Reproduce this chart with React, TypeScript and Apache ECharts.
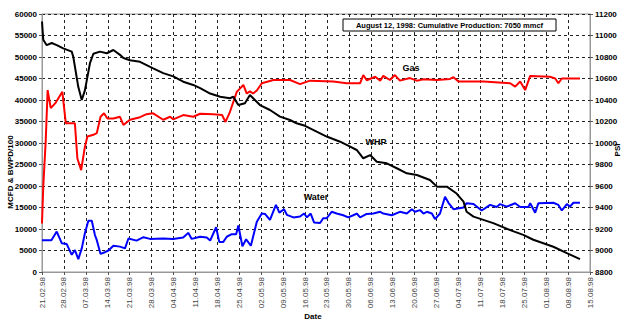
import React, { useEffect, useRef } from "react";
import * as echarts from "echarts";

// Day index counted from 21.02.1998
const startDate = Date.UTC(1998, 1, 21);
const dayTicks = { min: 0, max: 175, interval: 7 };
const leftTicks = { min: 0, max: 60000, interval: 5000 };
const rightTicks = { min: 8800, max: 11200, interval: 200 };

const gasData: [number, number][] = [
  [0, 11300], [0.4, 19800], [1.2, 30700], [1.8, 42300], [2.8, 38100], [4.2, 39200], [6.5, 41900],
  [7.6, 34600], [10.5, 34600], [11.3, 26400], [12.5, 23700], [13.7, 29100], [14.5, 31500],
  [16.4, 31900], [17.5, 32300], [18.7, 36100], [19.8, 36900], [20.9, 35700], [22.8, 35700],
  [24.9, 36100], [26, 34200], [28.1, 35400], [31.3, 36000], [33.4, 36700], [35.5, 36900],
  [38.7, 35400], [40.9, 36100], [41.9, 35500], [45.1, 36500], [48.3, 36100], [50.5, 36800],
  [54.7, 36700], [57.5, 36500], [58.6, 34900], [60, 37200], [62.2, 41900], [64.3, 43500],
  [65.4, 41500], [66.4, 42000], [67.4, 41500], [68.6, 42200], [70.2, 43900], [73.9, 44650], [79.2, 44650],
  [82.4, 43700], [85.6, 44500], [93, 44300], [97.3, 43900], [101.6, 43900], [102.6, 45800],
  [103.7, 44600], [106.4, 45400], [108, 44500], [109, 45600], [111.1, 44650], [112.7, 45800],
  [114.3, 44500], [117.5, 45100], [119.7, 44500], [121.8, 44800], [126.1, 44650], [130.3, 44900],
  [131.4, 45300], [133, 44300], [141, 44300], [149.5, 43900], [151.1, 43100], [152.7, 44300],
  [154.3, 42300], [155.9, 45600], [162.2, 45400], [163.9, 45000], [164.9, 43900], [166, 45000],
  [168.6, 45000], [171.8, 45000],
];

const waterData: [number, number][] = [
  [0, 7400], [3, 7400], [4.7, 9400], [6.3, 6700], [7.9, 6500], [9.5, 4000], [10.5, 5100],
  [11.6, 3000], [12.7, 5500], [13.7, 9000], [14.8, 11900], [15.9, 11900], [16.9, 8600],
  [17.5, 7400], [18.7, 4200], [20.1, 4600], [21.2, 5000], [22.8, 6100], [24.9, 5900],
  [26.5, 5500], [27.6, 7800], [30.2, 7300], [32.4, 8100], [34.5, 7700], [38.7, 7800],
  [41.9, 7700], [45.1, 8000], [46.7, 9100], [47.8, 7700], [50.5, 8200], [52.6, 8000],
  [53.7, 7300], [55.6, 10400], [56.6, 7000], [57.9, 7000], [59, 8200], [60.6, 8800], [62, 8800],
  [62.7, 10800], [64, 6000], [65.2, 7600], [66.7, 6100], [68.6, 11700], [70.2, 13600],
  [71.2, 13500], [72.8, 12100], [74.7, 15600], [75.8, 13800], [77.3, 14600], [78.2, 13300],
  [80.3, 12700], [82.4, 12900], [83.7, 13600], [84.6, 12700], [85.8, 13600], [86.9, 11500],
  [88.8, 11400], [89.8, 12500], [90.9, 12500], [92.5, 14000], [94.1, 13600], [96.2, 13200],
  [97.8, 12700], [99.4, 13200], [100.5, 13600], [101.6, 12700], [103.7, 13500], [105.8, 13600],
  [108, 14000], [109, 13600], [111.7, 13200], [114.3, 14000], [116.5, 13600], [118.1, 14600],
  [119.1, 14000], [120.7, 14400], [121.8, 13600], [122.9, 14000], [124.5, 13600], [125.5, 12300],
  [127.1, 13600], [128.7, 17500], [129.8, 16100], [131.4, 14600], [134.6, 15000], [135.6, 16000],
  [137.8, 15800], [140.4, 14300], [143.1, 15600], [145.2, 15100], [146.3, 15800], [148.4, 15200],
  [151.1, 16000], [152.7, 15100], [155.3, 15100], [155.9, 16000], [157.5, 13800], [158.5, 16000],
  [163.3, 16100], [164.9, 15600], [166, 14300], [167.6, 15800], [168.6, 15200], [169.7, 16100],
  [171.8, 16100],
];

const whpData: [number, number][] = [
  [0, 11130], [0.4, 10960], [1.5, 10910], [3.1, 10930], [4.7, 10910], [6.8, 10880], [9.5, 10850],
  [10, 10800], [11.6, 10520], [12.7, 10400], [13.7, 10490], [15.3, 10740], [16.4, 10830],
  [18.5, 10850], [20.7, 10835], [22.8, 10865], [24.9, 10820], [26, 10790], [28.1, 10770],
  [31.3, 10755], [33.4, 10725], [35.5, 10695], [38.7, 10650], [41.9, 10620], [45.1, 10570],
  [48.3, 10540], [50.5, 10510], [53.7, 10460], [56.9, 10430], [60, 10416], [61.1, 10430],
  [62.7, 10353], [64.8, 10369], [66.4, 10447], [68, 10400], [69.6, 10353], [72.8, 10307],
  [76, 10245], [79.2, 10214], [81.3, 10183], [84, 10160], [87.7, 10105], [90.9, 10060],
  [95.2, 10012], [98.4, 9966], [100.5, 9935], [102.6, 9858], [104.8, 9888], [106.9, 9826],
  [110.1, 9811], [113.3, 9765], [116.5, 9718], [119.7, 9702], [123.9, 9656], [126.1, 9594],
  [129.3, 9594], [132.4, 9530], [134.6, 9455], [135.6, 9360], [137.8, 9315], [144.1, 9255],
  [149.5, 9190], [153.7, 9145], [156.9, 9100], [163.3, 9035], [167.6, 8975], [171.8, 8920],
];

const seriesLabels = { gas: "Gas", whp: "WHP", water: "Water" };
const titleText = "August 12, 1998: Cumulative Production: 7050 mmcf";
const leftAxisName = "MCFD & BWPD/100";
const rightAxisName = "PSI";
const xAxisName = "Date";

const FONT = "Liberation Sans, Arial, sans-serif";

function fmtDate(v: number): string {
  const d = new Date(startDate + Math.round(v) * 86400000);
  const dd = String(d.getUTCDate()).padStart(2, "0");
  const mm = String(d.getUTCMonth() + 1).padStart(2, "0");
  const yy = String(d.getUTCFullYear()).slice(2);
  return `${dd}.${mm}.${yy}`;
}

export default function App() {
  const ref = useRef<HTMLDivElement>(null);
  useEffect(() => {
    if (!ref.current) return;
    const chart = echarts.init(ref.current, null, { renderer: "svg" });
    const dashed = { show: true, lineStyle: { color: "#222", type: [3, 3] as any, width: 1 } };
    const yLabel = {
      fontFamily: FONT,
      fontSize: 8,
      fontWeight: "bold",
      color: "#000",
      margin: 5,
      formatter: (v: number) => String(v),
    };
    const labelStyle = (t: string) => ({
      text: t,
      fontFamily: FONT,
      fontSize: 9,
      fontWeight: "bold",
      fill: "#000",
      align: "center",
      verticalAlign: "middle",
    });
    chart.setOption({
      animation: false,
      backgroundColor: "#fff",
      grid: { left: 42, right: 41, top: 14, bottom: 53, show: true, borderColor: "#999", borderWidth: 1 },
      xAxis: {
        type: "value",
        min: dayTicks.min,
        max: dayTicks.max,
        interval: dayTicks.interval,
        axisLine: { show: true, lineStyle: { color: "#999", width: 1 } },
        axisTick: { show: true, length: 3, lineStyle: { color: "#555" } },
        axisLabel: {
          rotate: 90,
          formatter: fmtDate,
          fontFamily: FONT,
          fontSize: 8,
          color: "#444",
          margin: 5,
        },
        splitLine: dashed,
      },
      yAxis: [
        {
          type: "value",
          min: leftTicks.min,
          max: leftTicks.max,
          interval: leftTicks.interval,
          axisLine: { show: true, lineStyle: { color: "#999", width: 1 } },
          axisTick: { show: true, length: 3, lineStyle: { color: "#555" } },
          axisLabel: yLabel,
          splitLine: dashed,
        },
        {
          type: "value",
          position: "right",
          min: rightTicks.min,
          max: rightTicks.max,
          interval: rightTicks.interval,
          axisLine: { show: true, lineStyle: { color: "#999", width: 1 } },
          axisTick: { show: true, length: 3, lineStyle: { color: "#555" } },
          axisLabel: yLabel,
          splitLine: { show: false },
        },
      ],
      series: [
        {
          name: seriesLabels.water,
          type: "line",
          data: waterData,
          yAxisIndex: 0,
          symbol: "none",
          lineStyle: { color: "#0000ff", width: 2 },
        },
        {
          name: seriesLabels.gas,
          type: "line",
          data: gasData,
          yAxisIndex: 0,
          symbol: "none",
          lineStyle: { color: "#ff0000", width: 2 },
        },
        {
          name: seriesLabels.whp,
          type: "line",
          data: whpData,
          yAxisIndex: 1,
          symbol: "none",
          lineStyle: { color: "#000000", width: 2 },
        },
      ],
      graphic: [
        {
          type: "rect",
          shape: { x: 343, y: 19, width: 213, height: 12 },
          style: { fill: "#fff", stroke: "#000", lineWidth: 1 },
          z: 100,
        },
        {
          type: "text",
          x: 449.5,
          y: 25,
          z: 101,
          style: { ...labelStyle(titleText), fontSize: 7.5 },
        },
        {
          type: "text",
          x: 10,
          y: 172,
          rotation: Math.PI / 2,
          style: { ...labelStyle(leftAxisName), fontSize: 8 },
        },
        {
          type: "text",
          x: 617,
          y: 150,
          rotation: Math.PI / 2,
          style: { ...labelStyle(rightAxisName), fontSize: 8 },
        },
        {
          type: "text",
          x: 313,
          y: 316,
          style: { ...labelStyle(xAxisName), fontSize: 8 },
        },
        { type: "text", x: 411, y: 68, style: labelStyle(seriesLabels.gas) },
        { type: "text", x: 376, y: 142, style: labelStyle(seriesLabels.whp) },
        { type: "text", x: 316, y: 197, style: labelStyle(seriesLabels.water) },
      ],
    });
    return () => chart.dispose();
  }, []);
  return (
    <div
      ref={ref}
      style={{ position: "fixed", left: 0, top: 0, width: 631, height: 325, background: "#fff" }}
    />
  );
}
